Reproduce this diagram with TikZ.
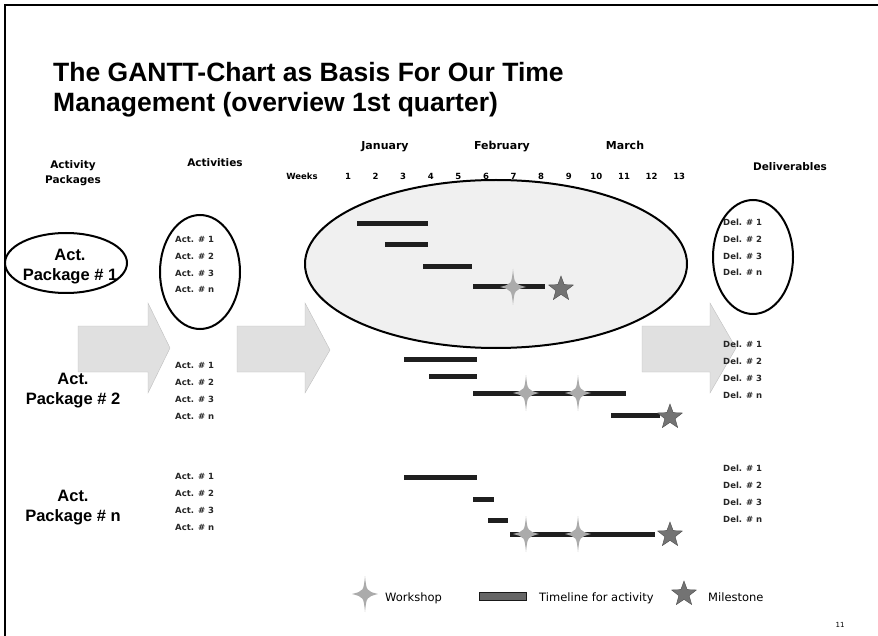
\documentclass[tikz,border=0pt]{standalone}
\usepackage{fontspec}
\setmainfont{Liberation Sans}
\newfontfamily\dejavu{DejaVu Sans}
\usetikzlibrary{shapes.geometric}

\begin{document}
\begin{tikzpicture}[x=1pt, y=-1pt,
    title/.style={anchor=base west, inner sep=0pt, font=\fontsize{26.5}{30}\selectfont\bfseries},
    header/.style={align=center, inner sep=0pt, font=\dejavu\fontsize{10.5}{15}\selectfont\bfseries},
    month/.style={anchor=base, inner sep=0pt, font=\dejavu\fontsize{11}{13}\selectfont\bfseries},
    week/.style={anchor=base, inner sep=0pt, font=\dejavu\fontsize{8.5}{10}\selectfont\bfseries},
    package/.style={align=center, inner sep=0pt, font=\fontsize{16.5}{20}\selectfont\bfseries},
    actlist/.style={anchor=base west, align=left, inner sep=0pt, text=black!85, font=\dejavu\fontsize{8.5}{16.7}\selectfont\bfseries},
    circled/.style={draw, line width=2pt},
    bar/.style={line width=5pt, black!88},
    milestone/.style={star, star points=5, star point ratio=2.4, minimum size=26pt, inner sep=0pt, fill=black!55, draw=black!70},
    bigarrow/.style={fill=black!12, draw=black!25},
    legend/.style={anchor=base west, inner sep=0pt, font=\dejavu\fontsize{11.5}{14}\selectfont},
    workshop/.pic={\fill[black!33] (0,-18) .. controls (1.5,-3) .. (13,0) .. controls (1.5,3) .. (0,18) .. controls (-1.5,3) .. (-13,0) .. controls (-1.5,-3) .. cycle;}
]
    \useasboundingbox (0,0) rectangle (878,636);
    \draw[line width=2pt] (5,636) -- (5,5) -- (878,5);

    % Titel
    \node[title] (title1) at (53,82) {The GANTT-Chart as Basis For Our Time};
    \node[title] (title2) at (53,112) {Management (overview 1st quarter)};

    % Kopfzeilen
    \node[header] (hpack) at (73,173) {Activity\\Packages};
    \node[header] (hact) at (215,163) {Activities};
    \node[header] (hdel) at (790,167) {Deliverables};
    \node[month] (jan) at (385,150) {January};
    \node[month] (feb) at (502,150) {February};
    \node[month] (mar) at (625,150) {March};
    \node[week] (weeks) at (302,180) {Weeks};
    \foreach \w in {1,...,13}
        \node[week] (w\w) at ({348+27.6*(\w-1)},180) {\w};

    % Blockpfeile
    \draw[bigarrow] (78,326) -- (148,326) -- (148,303) -- (170,348) -- (148,393) -- (148,372) -- (78,372) -- cycle;
    \draw[bigarrow] (237,326) -- (305,326) -- (305,303) -- (330,350) -- (305,393) -- (305,372) -- (237,372) -- cycle;
    \draw[bigarrow] (642,326) -- (710,326) -- (710,303) -- (736,348) -- (710,393) -- (710,372) -- (642,372) -- cycle;

    % Ellipsen
    \draw[circled, fill=black!6] (496,264) ellipse [x radius=191, y radius=84];
    \draw[circled] (66,263) ellipse [x radius=61, y radius=30];
    \draw[circled] (200,272) ellipse [x radius=40, y radius=57];
    \draw[circled] (753,257) ellipse [x radius=40, y radius=57];

    % Pakete
    \node[package] (pack1) at (70,267) {Act.\\Package \# 1};
    \node[package] (pack2) at (73,391) {Act.\\Package \# 2};
    \node[package] (packn) at (73,508) {Act.\\Package \# n};

    % Aktivitaeten
    \node[actlist] (acts1) at (175,293) {Act. \# 1\\Act. \# 2\\Act. \# 3\\Act. \# n};
    \node[actlist] (acts2) at (175,419) {Act. \# 1\\Act. \# 2\\Act. \# 3\\Act. \# n};
    \node[actlist] (actsn) at (175,530) {Act. \# 1\\Act. \# 2\\Act. \# 3\\Act. \# n};

    % Lieferungen
    \node[actlist] (dels1) at (723,276) {Del. \# 1\\Del. \# 2\\Del. \# 3\\Del. \# n};
    \node[actlist] (dels2) at (723,398) {Del. \# 1\\Del. \# 2\\Del. \# 3\\Del. \# n};
    \node[actlist] (delsn) at (723,522) {Del. \# 1\\Del. \# 2\\Del. \# 3\\Del. \# n};

    % Balken Paket 1
    \draw[bar] (357,224) -- (428,224);
    \draw[bar] (385,245) -- (428,245);
    \draw[bar] (423,267) -- (472,267);
    \draw[bar] (473,287) -- (545,287);
    \pic at (513,287) {workshop};
    \node[milestone] (ms1) at (561,289) {};

    % Balken Paket 2
    \draw[bar] (404,359) -- (477,359);
    \draw[bar] (429,376) -- (477,376);
    \draw[bar] (473,393) -- (626,393);
    \pic at (526,393) {workshop};
    \pic at (578,393) {workshop};
    \draw[bar] (611,415) -- (660,415);
    \node[milestone] (ms2) at (670,417) {};

    % Balken Paket n
    \draw[bar] (404,477) -- (477,477);
    \draw[bar] (473,499) -- (494,499);
    \draw[bar] (488,520) -- (508,520);
    \draw[bar] (510,534) -- (655,534);
    \pic at (526,534) {workshop};
    \pic at (578,534) {workshop};
    \node[milestone] (msn) at (670,535) {};

    % Legende
    \pic at (365,594) {workshop};
    \node[legend] (lws) at (385,601) {Workshop};
    \node[draw=black!90, fill=black!60, minimum width=47pt, minimum height=8pt, inner sep=0pt] (ltl) at (503,596) {};
    \node[legend] (ltltext) at (539,601) {Timeline for activity};
    \node[milestone] (lms) at (684,594) {};
    \node[legend] (lmstext) at (708,601) {Milestone};
    \node[anchor=base, font=\dejavu\fontsize{7}{8}\selectfont] (page) at (840,627) {11};
\end{tikzpicture}
\end{document}
